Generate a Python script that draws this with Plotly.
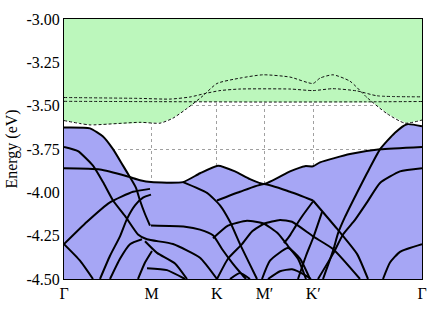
import numpy as np
import plotly.graph_objects as go

# ---- axis ticks ----
tick_k = [0, 87.7, 152.7, 200.5, 249.3, 358]
tick_labels = ["Γ", "M", "K", "M′", "K′", "Γ"]
y_ticks = [-3.0, -3.25, -3.5, -3.75, -4.0, -4.25, -4.5]
y_ticklabels = ["-3.00", "-3.25", "-3.50", "-3.75", "-4.00", "-4.25", "-4.50"]

# ---- conduction bands (dashed) ----
c1_k = [0, 16, 26, 76, 96, 109, 123, 139, 153, 176, 199, 226, 249, 256, 269, 286, 303, 323, 341, 358]
c1_E = [-3.586, -3.603, -3.611, -3.596, -3.601, -3.572, -3.516, -3.443, -3.372, -3.341, -3.322,
        -3.335, -3.372, -3.341, -3.322, -3.359, -3.453, -3.546, -3.601, -3.583]
c2_k = [0, 76, 106, 126, 141, 156, 176, 226, 249, 269, 293, 313, 358]
c2_E = [-3.453, -3.458, -3.462, -3.450, -3.430, -3.413, -3.404, -3.404, -3.413, -3.402, -3.415, -3.443, -3.449]
c3_k = [0, 100, 200, 300, 358]
c3_E = [-3.475, -3.477, -3.479, -3.478, -3.476]

# ---- valence bands (solid) ----
v01_k = [0, 26, 39, 49, 59, 66, 72, 76, 81, 86]
v01_E = [-3.626, -3.631, -3.678, -3.751, -3.846, -3.913, -3.974, -4.047, -4.125, -4.192]
v02_k = [0, 14, 29, 39, 49, 61, 74, 83, 109, 136, 153]
v02_E = [-3.738, -3.762, -3.846, -3.941, -4.047, -4.136, -4.243, -4.271, -4.298, -4.377, -4.500]
v03_k = [0, 36, 63, 76, 87, 119, 136, 154, 171, 186, 200, 226, 241, 249, 256, 286, 316, 358]
v03_E = [-3.861, -3.868, -3.907, -3.930, -3.941, -3.941, -3.890, -3.846, -3.879, -3.924, -3.952,
         -3.879, -3.849, -3.850, -3.827, -3.779, -3.752, -3.738]
v04_k = [119, 143, 156, 166, 176, 184, 193]
v04_E = [-3.941, -4.003, -4.075, -4.170, -4.299, -4.394, -4.500]
v05_k = [153, 176, 200, 226, 249]
v05_E = [-4.047, -3.997, -3.952, -3.997, -4.047]
v06_k = [249, 273, 293, 304]
v06_E = [-4.047, -4.210, -4.355, -4.500]
v07_k = [259, 269, 274, 281, 293, 303, 316, 331, 343, 358]
v07_E = [-4.500, -4.338, -4.237, -4.142, -4.002, -3.890, -3.752, -3.656, -3.607, -3.619]
v08_k = [254, 269, 279, 291, 303, 316, 336, 358]
v08_E = [-4.500, -4.355, -4.243, -4.159, -4.058, -3.946, -3.879, -3.861]
v09_k = [319, 326, 336, 358]
v09_E = [-4.500, -4.405, -4.343, -4.299]
v10_k = [153, 164, 178, 188, 200, 216, 228, 249, 269, 296]
v10_E = [-4.500, -4.383, -4.299, -4.226, -4.181, -4.159, -4.170, -4.254, -4.327, -4.500]
v11_k = [87, 121, 136, 149, 158, 168, 176, 182]
v11_E = [-4.192, -4.198, -4.215, -4.248, -4.327, -4.405, -4.461, -4.500]
v12_k = [149, 164, 183, 200, 214, 224, 234, 242]
v12_E = [-4.265, -4.192, -4.164, -4.181, -4.237, -4.310, -4.383, -4.500]
v13_k = [198, 206, 224, 236, 246]
v13_E = [-4.500, -4.394, -4.321, -4.383, -4.500]
v14_k = [0, 23, 46, 69, 86]
v14_E = [-4.299, -4.170, -4.058, -3.997, -3.980]
v15_k = [0, 16, 29]
v15_E = [-4.299, -4.394, -4.500]
v16_k = [36, 46, 56, 63, 71, 79, 87]
v16_E = [-4.500, -4.366, -4.254, -4.153, -4.075, -4.030, -4.013]
v17_k = [81, 93, 111, 123]
v17_E = [-4.282, -4.349, -4.410, -4.500]
v18_k = [74, 81, 88]
v18_E = [-4.500, -4.405, -4.338]
v19_k = [83, 103, 121]
v19_E = [-4.438, -4.449, -4.500]
v20_k = [46, 56, 66, 78]
v20_E = [-4.500, -4.383, -4.299, -4.271]
v21_k = [166, 176, 186]
v21_E = [-4.500, -4.466, -4.500]
v22_k = [204, 216, 228, 241, 247]
v22_E = [-4.500, -4.455, -4.444, -4.477, -4.500]
v23_k = [220, 226, 232, 239, 249]
v23_E = [-4.293, -4.248, -4.192, -4.131, -4.053]
v24_k = [234, 242, 249, 258]
v24_E = [-4.500, -4.366, -4.265, -4.114]

cond_bands = [(c1_k, c1_E), (c2_k, c2_E), (c3_k, c3_E)]
val_bands = [(v01_k, v01_E), (v02_k, v02_E), (v03_k, v03_E), (v04_k, v04_E), (v05_k, v05_E),
             (v06_k, v06_E), (v07_k, v07_E), (v08_k, v08_E), (v09_k, v09_E), (v10_k, v10_E),
             (v11_k, v11_E), (v12_k, v12_E), (v13_k, v13_E), (v14_k, v14_E), (v15_k, v15_E),
             (v16_k, v16_E), (v17_k, v17_E), (v18_k, v18_E), (v19_k, v19_E), (v20_k, v20_E),
             (v21_k, v21_E), (v22_k, v22_E), (v23_k, v23_E), (v24_k, v24_E)]

grid = np.linspace(0, 358, 1791)


def on_grid(k, E):
    k = np.asarray(k, float)
    E = np.asarray(E, float)
    o = np.argsort(k)
    return np.interp(grid, k[o], E[o], left=np.nan, right=np.nan)


cond_floor = np.nanmin([on_grid(k, E) for k, E in cond_bands], axis=0)
val_top = np.nanmax([on_grid(k, E) for k, E in val_bands], axis=0)
n = len(grid)

fig = go.Figure()
# conduction continuum (green)
fig.add_trace(go.Scatter(
    x=np.concatenate([grid, grid[::-1]]),
    y=np.concatenate([cond_floor, np.full(n, -2.9)]),
    fill="toself", fillcolor="#bcf7bc", mode="lines", line=dict(width=0),
    hoverinfo="skip", showlegend=False))
# valence continuum (blue)
fig.add_trace(go.Scatter(
    x=np.concatenate([grid, grid[::-1]]),
    y=np.concatenate([val_top, np.full(n, -4.6)]),
    fill="toself", fillcolor="#a6a6f5", mode="lines", line=dict(width=0),
    hoverinfo="skip", showlegend=False))

for k, E in cond_bands:
    fig.add_trace(go.Scatter(x=k, y=E, mode="lines",
                             line=dict(color="#111111", width=1, dash="3px,2px",
                                       shape="spline", smoothing=0.6),
                             showlegend=False))
for k, E in val_bands:
    fig.add_trace(go.Scatter(x=k, y=E, mode="lines",
                             line=dict(color="black", width=2, shape="spline", smoothing=0.5),
                             showlegend=False))

font = dict(family="'Liberation Serif', 'Times New Roman', Times, serif", size=16, color="black")
fig.update_layout(
    width=440, height=313,
    margin=dict(l=64, r=18, t=11, b=34),
    paper_bgcolor="white", plot_bgcolor="white",
    showlegend=False,
    font=font,
    xaxis=dict(range=[0, 358], tickvals=tick_k, ticktext=tick_labels,
               showgrid=True, gridcolor="#a0a0a0", griddash="dot", gridwidth=1,
               showline=True, mirror=True, linecolor="black", linewidth=1,
               ticks="", zeroline=False, tickfont=font),
    yaxis=dict(range=[-4.5, -3.0], tickvals=y_ticks, ticktext=y_ticklabels,
               showgrid=True, gridcolor="#a0a0a0", griddash="dot", gridwidth=1,
               showline=True, mirror=True, linecolor="black", linewidth=1,
               ticks="", zeroline=False, tickfont=font,
               title=dict(text="Energy (eV)", font=font, standoff=4)),
)

fig.write_html("out.html")
